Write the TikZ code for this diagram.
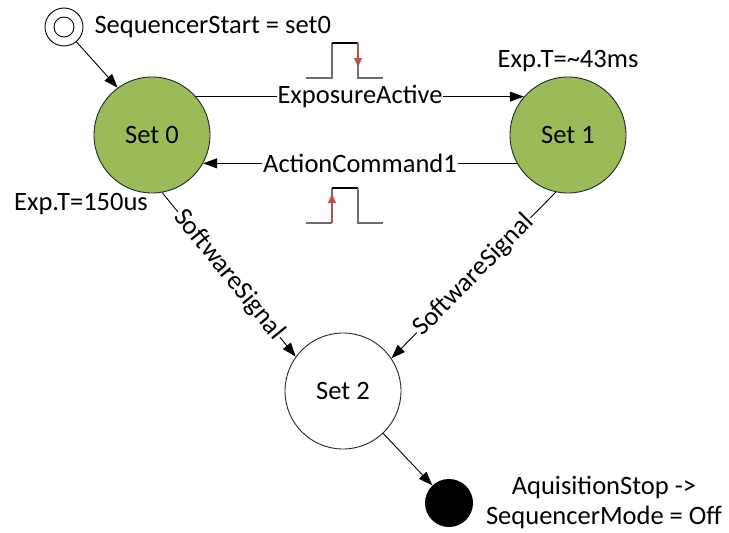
\documentclass[tikz,border=0pt]{standalone}
\usepackage{fontspec}
\setmainfont{Carlito}
\usetikzlibrary{arrows.meta}
\definecolor{setgreen}{HTML}{9BBB59}
\definecolor{pulsered}{HTML}{C0504D}
\definecolor{pulsegray}{HTML}{6E6E6E}
\begin{document}
\begin{tikzpicture}[x=1pt,y=-1pt,
  every node/.style={font=\fontsize{26.5}{30}\selectfont},
  state/.style={circle,draw=black!85,line width=0.9pt,minimum size=116pt,inner sep=0pt},
  greenstate/.style={state,fill=setgreen},
  lbl/.style={fill=white,inner sep=1pt},
  arr/.style={-{Triangle[length=14pt,width=10pt]},line width=0.9pt},
  pulse/.style={line width=1.2pt,pulsegray},
  redarr/.style={-{Triangle[length=9pt,width=8pt]},line width=1.3pt,pulsered}
]
\useasboundingbox (0,0) rectangle (729,533);
% states
\node[circle,draw,line width=0.9pt,minimum size=38pt,inner sep=0pt] (start) at (64,27) {};
\node[circle,draw,line width=0.9pt,minimum size=20pt,inner sep=0pt] (startin) at (64,27) {};
\node[anchor=west] (starttxt) at (91,27) {SequencerStart = set0};
\node[greenstate] (s0) at (152,135) {Set 0};
\node[greenstate] (s1) at (568,135) {Set 1};
\node[state,fill=white] (s2) at (343,391) {Set 2};
\node[circle,fill=black,minimum size=48pt,inner sep=0pt] (end) at (449,503) {};
\node (exp1) at (568,61) {Exp.T=\textasciitilde 43ms};
\node (exp0) at (81,204) {Exp.T=150us};
\node[align=center] (endtxt) at (604,502) {AquisitionStop ->\\SequencerMode = Off};
% connectors
\draw[arr] (start.-50) -- (s0.126);
\draw[arr] (s0.41) -- node[lbl] {ExposureActive} (s1.139);
\draw[arr] (s1.-151) -- node[lbl] {ActionCommand1} (s0.-29);
\draw[arr] (s0.-80) -- node[lbl,sloped] {SoftwareSignal} (s2.144);
\draw[arr] (s1.-102) -- node[lbl,sloped] {SoftwareSignal} (s2.34);
\draw[arr] (s2) -- (end);
% pulses
\draw[pulse] (306,78) -- (332,78) -- (332,43);
\draw[line width=1.2pt] (332,43) -- (358,43);
\draw[pulse] (358,43) -- (358,78) -- (383,78);
\draw[redarr] (358,45) -- (358,67);
\draw[pulse] (306,223) -- (332,223);
\draw[pulse] (332,188) -- (332,223);
\draw[line width=1.2pt] (332,188) -- (358,188);
\draw[pulse] (358,188) -- (358,223) -- (383,223);
\draw[redarr] (332,222) -- (332,194);
\end{tikzpicture}
\end{document}
